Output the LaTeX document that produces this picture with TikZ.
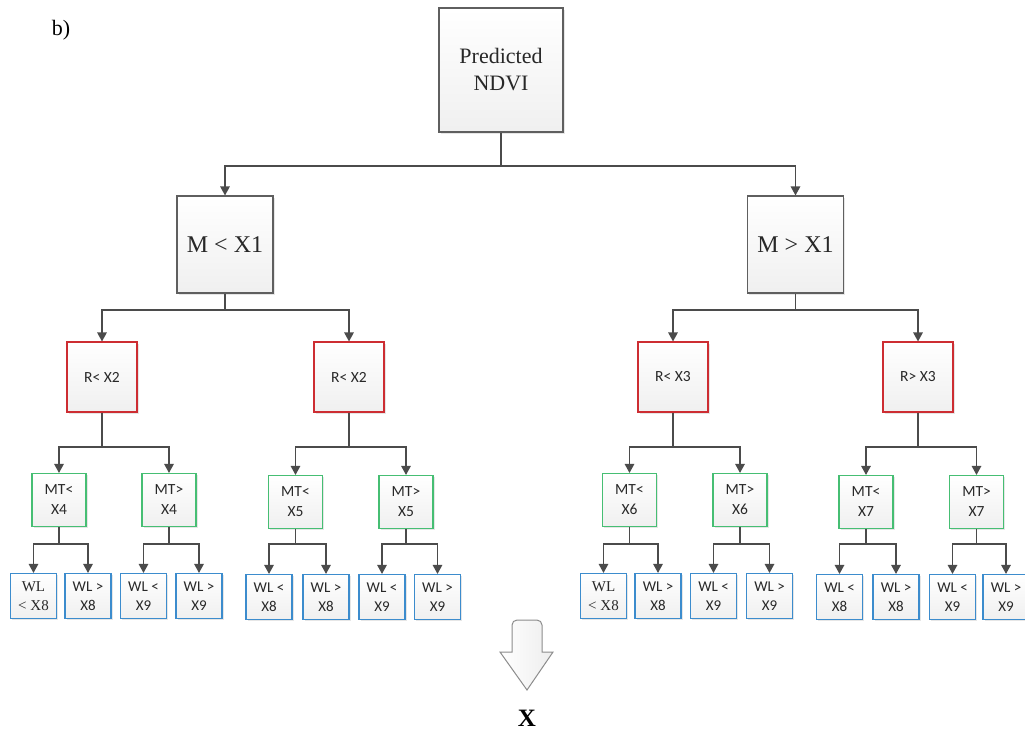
\documentclass[tikz,border=0pt]{standalone}
\usepackage{fontspec}
\setmainfont{Liberation Serif}
\newfontfamily\calfont{Carlito}
\usetikzlibrary{arrows.meta,shadows}
\definecolor{lc}{RGB}{75,75,75}
\definecolor{bgray}{RGB}{95,95,95}
\definecolor{bred}{RGB}{205,45,50}
\definecolor{bgreen}{RGB}{70,190,115}
\definecolor{bblue}{RGB}{60,140,205}
\definecolor{tc}{RGB}{40,40,40}
\begin{document}
\begin{tikzpicture}[x=1pt,y=-1pt,
  boxbase/.style={line width=1.1pt, top color=white, bottom color=black!6,
    drop shadow={shadow xshift=1.5pt, shadow yshift=-1.5pt, opacity=.2},
    align=center, inner sep=0pt, text=tc},
  gbox/.style={boxbase, draw=bgray},
  rbox/.style={boxbase, draw=bred, minimum width=70pt, minimum height=70pt,
    font=\calfont\fontsize{15.5}{19}\selectfont},
  grbox/.style={boxbase, draw=bgreen, minimum width=54pt, minimum height=53pt,
    font=\calfont\fontsize{15.5}{20}\selectfont},
  lbox/.style={boxbase, draw=bblue, minimum width=46pt, minimum height=45pt,
    font=\calfont\fontsize{15}{19.5}\selectfont},
  lsbox/.style={lbox, font=\fontsize{15}{19.5}\selectfont},
  arr/.style={draw=lc, line width=1.3pt, -{Triangle[length=9pt,width=9.5pt]}}]
\useasboundingbox (0,0) rectangle (1025,731);

\node[font=\fontsize{22}{26}\selectfont] (lab) at (61,30) {b)};

\node[gbox, minimum width=124pt, minimum height=124pt,
  font=\fontsize{22}{27}\selectfont] (top) at (501,70) {Predicted\\NDVI};

\node[gbox, minimum width=96pt, minimum height=97pt,
  font=\fontsize{24}{29}\selectfont] (a) at (225,244.5) {M < X1};
\node[gbox, minimum width=96pt, minimum height=97pt,
  font=\fontsize{24}{29}\selectfont] (b) at (795.5,244.5) {M > X1};

\node[rbox] (ra) at (102,377) {R< X2};
\node[rbox] (rb) at (349,377) {R< X2};
\node[rbox] (rc) at (673,377) {R< X3};
\node[rbox] (rd) at (918,377) {R> X3};

\node[grbox] (g1) at (59,500) {MT<\\X4};
\node[grbox] (g2) at (169,500) {MT>\\X4};
\node[grbox] (g3) at (295.5,502) {MT<\\X5};
\node[grbox] (g4) at (406,502) {MT>\\X5};
\node[grbox] (g5) at (629.5,500) {MT<\\X6};
\node[grbox] (g6) at (740,500) {MT>\\X6};
\node[grbox] (g7) at (866,502) {MT<\\X7};
\node[grbox] (g8) at (976.5,502) {MT>\\X7};

\node[lsbox] (l1) at (33.5,596) {WL\\< X8};
\node[lbox] (l2) at (88,596) {WL >\\X8};
\node[lbox] (l3) at (143.5,596) {WL <\\X9};
\node[lbox] (l4) at (199,596) {WL >\\X9};
\node[lbox] (l5) at (269,597) {WL <\\X8};
\node[lbox] (l6) at (326,597) {WL >\\X8};
\node[lbox] (l7) at (382,597) {WL <\\X9};
\node[lbox] (l8) at (437.5,597) {WL >\\X9};
\node[lsbox] (l9) at (603.5,596) {WL\\< X8};
\node[lbox] (l10) at (658,596) {WL >\\X8};
\node[lbox] (l11) at (713.5,596) {WL <\\X9};
\node[lbox] (l12) at (769.5,596) {WL >\\X9};
\node[lbox] (l13) at (839.5,597) {WL <\\X8};
\node[lbox] (l14) at (896,597) {WL >\\X8};
\node[lbox] (l15) at (952.5,597) {WL <\\X9};
\node[lbox] (l16) at (1006,597) {WL >\\X9};

\coordinate (y1) at (0,166);
\coordinate (y2) at (0,310);
\coordinate (y3) at (0,447);
\coordinate (y4) at (0,544);

\foreach \p/\c in {top/a, top/b}
  \draw[arr] (\p.south) -- (\p.south |- y1) -| (\c.north);
\foreach \p/\c in {a/ra, a/rb, b/rc, b/rd}
  \draw[arr] (\p.south) -- (\p.south |- y2) -| (\c.north);
\foreach \p/\c in {ra/g1, ra/g2, rb/g3, rb/g4, rc/g5, rc/g6, rd/g7, rd/g8}
  \draw[arr] (\p.south) -- (\p.south |- y3) -| (\c.north);
\foreach \p/\c in {g1/l1, g1/l2, g2/l3, g2/l4, g3/l5, g3/l6, g4/l7, g4/l8,
                   g5/l9, g5/l10, g6/l11, g6/l12, g7/l13, g7/l14, g8/l15, g8/l16}
  \draw[arr] (\p.south) -- (\p.south |- y4) -| (\c.north);

\draw[draw=black!45, line width=1pt, left color=white, right color=black!7]
  (512,652) [rounded corners=5pt] -- (512,620) -- (542,620) [sharp corners] -- (542,652)
  -- (553,652) -- (527,690) -- (500,652) -- cycle;

\node[font=\bfseries\fontsize{25}{30}\selectfont] (x) at (527,718) {X};
\end{tikzpicture}
\end{document}
